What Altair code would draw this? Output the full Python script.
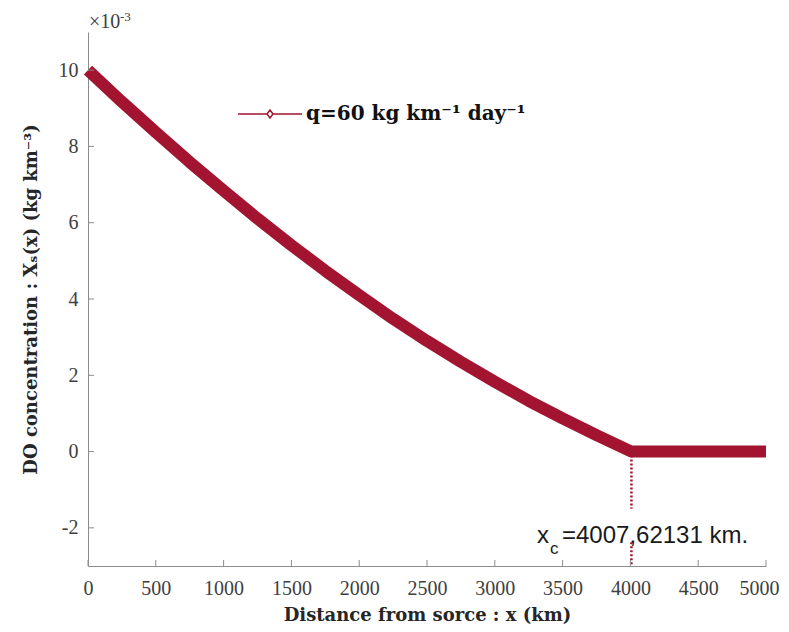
import altair as alt
import pandas as pd

RED = "#A2142F"
GRAY = "#8c8c8c"
SERIF = "Liberation Serif"
BSERIF = "DejaVu Serif"
SANS = "Liberation Sans"

# --- data ---
x_km = [0, 250, 500, 750, 1000, 1250, 1500, 1750, 2000, 2250, 2500, 2750,
        3000, 3250, 3500, 3750, 4007.62131, 4250, 4500, 4750, 5000]
conc = [10.0, 9.17, 8.37, 7.59, 6.84, 6.11, 5.41, 4.74, 4.10, 3.48, 2.90, 2.35,
        1.83, 1.33, 0.87, 0.43, 0.0, 0.0, 0.0, 0.0, 0.0]
series_label = "q=60 kg km\u207b\u00b9 day\u207b\u00b9"

x_ticks = [0, 500, 1000, 1500, 2000, 2500, 3000, 3500, 4000, 4500, 5000]
y_ticks = [-2, 0, 2, 4, 6, 8, 10]

xc = 4007.62131
dot_top = [0.0, -2.38]
dot_bot = [-1.5, -3.0]

ann_x = [3311]
ann_y = [-2.39]

W, H = 678, 534

line_df = pd.DataFrame({"x": x_km, "y": conc, "series": [series_label] * len(x_km)})
dot_df = pd.DataFrame({"x": [xc, xc], "y": dot_top, "y2": dot_bot})
xt_df = pd.DataFrame({"t": x_ticks})
yt_df = pd.DataFrame({"t": y_ticks})
ann_df = pd.DataFrame({"x": ann_x, "y": ann_y})
exp_df = pd.DataFrame({"a": ["\u00d710"], "b": ["-3"]})

xs = alt.Scale(domain=[0, 5000], nice=False, zero=False)
ys = alt.Scale(domain=[-3, 11], nice=False, zero=False)

x_axis = alt.Axis(values=x_ticks, title="Distance from sorce : x (km)",
                  labelExpr="'' + datum.value",
                  titleFont=BSERIF, titleFontSize=18, titleFontWeight="bold",
                  titleColor="#262626", titlePadding=8,
                  labelFont=SERIF, labelFontSize=20, labelColor="#404040",
                  labelPadding=12, labelFlush=False, labelOverlap=False,
                  labelOffset=alt.condition("datum.value == 5000", alt.value(-7), alt.value(0)),
                  ticks=False, grid=False, domainColor=GRAY)
y_axis = alt.Axis(values=y_ticks, title="DO concentration : X\u209b(x) (kg km\u207b\u00b3)",
                  labelExpr="'' + datum.value",
                  titleFont=BSERIF, titleFontSize=18, titleFontWeight="bold",
                  titleColor="#262626", titlePadding=18,
                  labelFont=SERIF, labelFontSize=20, labelColor="#404040",
                  labelPadding=10, labelFlush=False, labelOverlap=False,
                  ticks=False, grid=False, domainColor=GRAY)

sym = "M-1,0L-0.094,0M0.094,0L1,0M0,-0.125L0.094,0L0,0.125L-0.094,0Z"

line = alt.Chart(line_df).mark_line(strokeWidth=12, strokeJoin="bevel", strokeCap="butt").encode(
    x=alt.X("x:Q", scale=xs, axis=x_axis),
    y=alt.Y("y:Q", scale=ys, axis=y_axis),
    color=alt.Color("series:N", scale=alt.Scale(domain=[series_label], range=[RED]),
                    legend=alt.Legend(orient="none", legendX=149, legendY=49, title=None,
                                      symbolType=sym, symbolSize=4096, symbolStrokeWidth=1.5,
                                      symbolFillColor="white", labelLimit=500,
                                      labelFont=BSERIF, labelFontSize=20, labelFontWeight="bold",
                                      labelColor="#111111", labelOffset=3, padding=0)),
)

dots = alt.Chart(dot_df).mark_rule(color=RED, strokeWidth=2.5, strokeDash=[2, 2]).encode(
    x=alt.X("x:Q", scale=xs), y=alt.Y("y:Q", scale=ys), y2="y2:Q")

xticks = alt.Chart(xt_df).mark_rule(color=GRAY, strokeWidth=1).encode(
    x=alt.X("t:Q", scale=xs), y=alt.value(H), y2=alt.value(H - 6))
yticks = alt.Chart(yt_df).mark_rule(color=GRAY, strokeWidth=1).encode(
    y=alt.Y("t:Q", scale=ys), x=alt.value(0), x2=alt.value(6))

ann_base = alt.Chart(ann_df).encode(x=alt.X("x:Q", scale=xs), y=alt.Y("y:Q", scale=ys))
ann1 = ann_base.mark_text(text="x", font=SANS, fontSize=24, align="left",
                          baseline="alphabetic", color="#1a1a1a")
ann2 = ann_base.mark_text(text="c", font=SANS, fontSize=17, align="left",
                          baseline="alphabetic", color="#1a1a1a", dx=13, dy=11)
ann3 = ann_base.mark_text(text="=4007,62131 km.", font=SANS, fontSize=24, align="left",
                          baseline="alphabetic", color="#1a1a1a", dx=25)

exp1 = alt.Chart(exp_df).mark_text(font=SERIF, fontSize=20, align="left",
                                   baseline="alphabetic", color="#404040").encode(
    text="a:N", x=alt.value(1), y=alt.value(-4))
exp2 = alt.Chart(exp_df).mark_text(font=SERIF, fontSize=13, align="left",
                                   baseline="alphabetic", color="#404040").encode(
    text="b:N", x=alt.value(32), y=alt.value(-11))

chart = alt.layer(line, dots, xticks, yticks, ann1, ann2, ann3, exp1, exp2).properties(
    width=W, height=H,
    autosize=alt.AutoSizeParams(type="none"),
    padding={"left": 80, "top": 24, "right": 15, "bottom": 62},
).configure_view(stroke="transparent")

chart.save("out.html", embed_options={"renderer": "svg", "actions": False})
